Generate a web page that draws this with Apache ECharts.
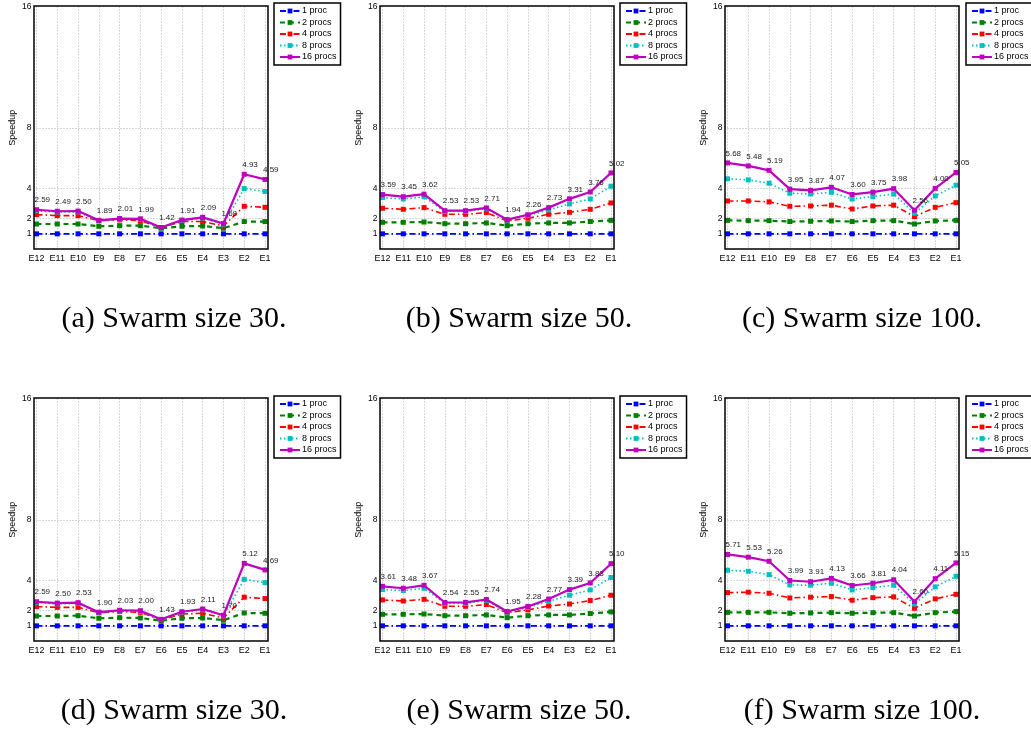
<!DOCTYPE html>
<html>
<head>
<meta charset="utf-8">
<script src="https://cdn.jsdelivr.net/npm/echarts@6/dist/echarts.min.js"></script>
<style>html,body{margin:0;padding:0;background:#fff;}#c{width:1031px;height:731px;}</style>
</head>
<body>
<div id="c"></div>
<script>
const categories = ['E12','E11','E10','E9','E8','E7','E6','E5','E4','E3','E2','E1'];
const seriesNames = ['1 proc','2 procs','4 procs','8 procs','16 procs'];
const yTicks = [1, 2, 4, 8, 16];
const captions = ['(a) Swarm size 30.', '(b) Swarm size 50.', '(c) Swarm size 100.',
                  '(d) Swarm size 30.', '(e) Swarm size 50.', '(f) Swarm size 100.'];

const p1 = [1,1,1,1,1,1,1,1,1,1,1,1];

const a_p2  = [1.65,1.65,1.65,1.50,1.54,1.54,1.37,1.50,1.52,1.37,1.81,1.81];
const a_p4  = [2.27,2.20,2.20,1.87,1.92,1.87,1.41,1.81,1.81,1.52,2.82,2.75];
const a_p8  = [2.52,2.44,2.45,1.86,1.97,1.95,1.40,1.88,2.04,1.64,3.99,3.79];
const a_p16 = [2.59,2.49,2.50,1.89,2.01,1.99,1.42,1.91,2.09,1.68,4.93,4.59];

const b_p2  = [1.76,1.76,1.78,1.67,1.67,1.72,1.54,1.67,1.72,1.72,1.81,1.89];
const b_p4  = [2.69,2.62,2.73,2.29,2.29,2.40,1.85,2.03,2.29,2.42,2.62,3.04];
const b_p8  = [3.39,3.30,3.44,2.47,2.47,2.65,1.90,2.21,2.58,2.97,3.30,4.14];
const b_p16 = [3.59,3.45,3.62,2.53,2.53,2.71,1.94,2.26,2.73,3.31,3.76,5.02];

const c_p2  = [1.89,1.87,1.87,1.81,1.83,1.85,1.81,1.87,1.87,1.65,1.85,1.89];
const c_p4  = [3.17,3.17,3.11,2.82,2.84,2.89,2.64,2.84,2.89,2.14,2.75,3.06];
const c_p8  = [4.63,4.56,4.34,3.68,3.63,3.74,3.30,3.46,3.63,2.36,3.50,4.21];
const c_p16 = [5.68,5.48,5.19,3.95,3.87,4.07,3.60,3.75,3.98,2.56,4.00,5.05];

const d_p2  = [1.65,1.65,1.67,1.50,1.54,1.52,1.34,1.50,1.52,1.37,1.85,1.83];
const d_p4  = [2.27,2.22,2.22,1.87,1.94,1.89,1.39,1.78,1.83,1.52,2.89,2.80];
const d_p8  = [2.53,2.45,2.48,1.87,1.99,1.96,1.41,1.90,2.06,1.66,4.07,3.85];
const d_p16 = [2.59,2.50,2.53,1.90,2.03,2.00,1.43,1.93,2.11,1.70,5.12,4.69];

const e_p2  = [1.76,1.76,1.78,1.67,1.67,1.72,1.54,1.67,1.72,1.72,1.81,1.92];
const e_p4  = [2.71,2.64,2.75,2.29,2.29,2.40,1.87,2.05,2.31,2.44,2.67,3.02];
const e_p8  = [3.39,3.33,3.48,2.48,2.48,2.68,1.90,2.22,2.62,3.02,3.37,4.19];
const e_p16 = [3.61,3.48,3.67,2.54,2.55,2.74,1.95,2.28,2.77,3.39,3.83,5.10];

const f_p2  = [1.89,1.89,1.89,1.83,1.85,1.87,1.83,1.87,1.87,1.65,1.87,1.94];
const f_p4  = [3.19,3.22,3.15,2.84,2.89,2.93,2.69,2.86,2.91,2.16,2.78,3.08];
const f_p8  = [4.67,4.60,4.38,3.70,3.68,3.81,3.37,3.52,3.68,2.44,3.57,4.27];
const f_p16 = [5.71,5.53,5.26,3.99,3.91,4.13,3.66,3.81,4.04,2.60,4.11,5.15];

const plots = [
  [p1, a_p2, a_p4, a_p8, a_p16],
  [p1, b_p2, b_p4, b_p8, b_p16],
  [p1, c_p2, c_p4, c_p8, c_p16],
  [p1, d_p2, d_p4, d_p8, d_p16],
  [p1, e_p2, e_p4, e_p8, e_p16],
  [p1, f_p2, f_p4, f_p8, f_p16]
];

// layout
const frameLefts = [34, 380, 725];
const frameTops = [6, 398];
const frameW = 234, frameH = 243;
const legendLefts = [274, 620, 966];
const legendTops = [3, 396];
const captionX = [174, 519, 862];
const captionY = [319, 711];

const styles = [
  {color: '#0000ff', type: [6, 3, 1.5, 3], width: 1.6},
  {color: '#008000', type: [5, 4], width: 2.2},
  {color: '#ff0000', type: [6, 3, 1.5, 3], width: 1.6},
  {color: '#00bfbf', type: [1.5, 2.5], width: 1.6},
  {color: '#bf00bf', type: 'solid', width: 2.2}
];

const FONT = 'Liberation Sans';
const splitColors = [];
for (let v = 0; v <= 16; v++) splitColors.push(yTicks.includes(v) && v !== 16 ? '#9a9a9a' : 'rgba(0,0,0,0)');

const grids = [], xAxes = [], yAxes = [], series = [], legends = [], graphics = [];
for (let i = 0; i < 6; i++) {
  const col = i % 3, row = Math.floor(i / 3);
  const fl = frameLefts[col], ft = frameTops[row];
  grids.push({left: fl + 2.5, top: ft + 0.5, width: frameW - 5.5, height: frameH - 0.5, show: false});
  xAxes.push({
    type: 'category', gridIndex: i, data: categories, boundaryGap: false,
    axisLine: {show: false}, axisTick: {show: false},
    axisLabel: {fontSize: 9, color: '#000', margin: 5, fontFamily: FONT, interval: 0},
    splitLine: {show: true, lineStyle: {color: '#9a9a9a', type: [1, 2], width: 0.8}}
  });
  yAxes.push({
    type: 'value', gridIndex: i, min: 0, max: 16, interval: 1,
    name: 'Speedup', nameLocation: 'middle', nameGap: 19,
    nameTextStyle: {fontSize: 9, color: '#000', fontFamily: FONT},
    axisLine: {show: false}, axisTick: {show: false},
    axisLabel: {fontSize: 8.5, color: '#000', margin: 5, fontFamily: FONT,
      formatter: v => (yTicks.includes(v) ? String(v) : '')},
    splitLine: {show: true, lineStyle: {color: splitColors, type: [1, 2], width: 0.8}}
  });
  plots[i].forEach((vals, k) => {
    const st = styles[k];
    const s = {
      type: 'line', name: seriesNames[k], xAxisIndex: i, yAxisIndex: i,
      data: vals, symbol: 'rect', symbolSize: 5, z: 2 + k,
      lineStyle: {color: st.color, type: st.type, width: st.width},
      itemStyle: {color: st.color, borderWidth: 0},
      clip: false
    };
    if (k === 4) {
      s.label = {show: true, position: 'top', distance: 3, align: 'left', offset: [-2, 0],
        fontSize: 8, color: '#222', fontFamily: FONT,
        formatter: p => p.value.toFixed(2)};
    }
    series.push(s);
  });
  legends.push({
    data: seriesNames, orient: 'vertical', left: legendLefts[col], top: legendTops[row],
    itemWidth: 20, itemHeight: 6, itemGap: 1.5, padding: [3, 4, 3, 5],
    borderColor: '#000', borderWidth: 1.5, backgroundColor: '#fff', selectedMode: false,
    textStyle: {fontSize: 9, color: '#000', fontFamily: FONT, lineHeight: 10, padding: [0, 0, 0, -3]}
  });
  graphics.push({
    type: 'rect', shape: {x: fl, y: ft, width: frameW, height: frameH}, z: 100, silent: true,
    style: {fill: null, stroke: '#000', lineWidth: 1.5}
  });
  graphics.push({
    type: 'text', x: captionX[col], y: captionY[row], z: 100, silent: true,
    style: {text: captions[i], fill: '#000', font: '30px "Liberation Serif"',
      textAlign: 'center', textVerticalAlign: 'middle'}
  });
}

const chart = echarts.init(document.getElementById('c'), null, {renderer: 'canvas'});
chart.setOption({
  animation: false,
  backgroundColor: '#fff',
  textStyle: {fontFamily: FONT},
  grid: grids, xAxis: xAxes, yAxis: yAxes, series: series, legend: legends,
  graphic: {elements: graphics}
});
</script>
</body>
</html>
